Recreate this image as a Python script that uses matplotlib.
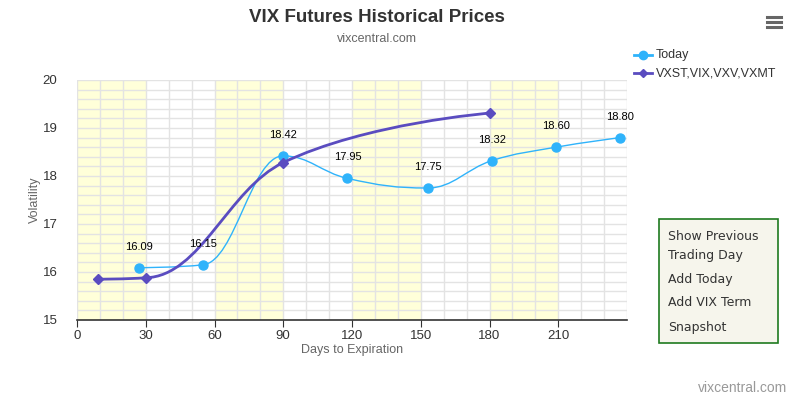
import numpy as np
import matplotlib.pyplot as plt
from matplotlib.path import Path
from matplotlib.patches import PathPatch, Rectangle
from matplotlib.lines import Line2D

plt.rcParams['font.family'] = ['Liberation Sans', 'DejaVu Sans']

# data
today_days = [27, 55, 90, 118, 153, 181, 209, 237]
today_vals = [16.09, 16.15, 18.42, 17.95, 17.75, 18.32, 18.60, 18.80]

term_days = [9, 30, 90, 180]
term_vals = [15.85, 15.88, 18.28, 19.31]

band_starts = [0, 60, 120, 180]
band_width = 30
x_ticks = [0, 30, 60, 90, 120, 150, 180, 210]
y_ticks = [15, 16, 17, 18, 19, 20]

W, H = 794, 399


def fx(x):
    return x / W


def fy(y):
    return 1 - y / H


# Highcharts-like spline (bezier control points from neighbours)
def spline_path(xs, ys, smoothing=1.5):
    n = len(xs)
    left = [None] * n
    right = [None] * n
    denom = smoothing + 1
    for i in range(1, n - 1):
        px, py = xs[i], ys[i]
        lx, ly = xs[i - 1], ys[i - 1]
        nx, ny = xs[i + 1], ys[i + 1]
        lcx = (smoothing * px + lx) / denom
        lcy = (smoothing * py + ly) / denom
        rcx = (smoothing * px + nx) / denom
        rcy = (smoothing * py + ny) / denom
        corr = (rcy - lcy) * (rcx - px) / (rcx - lcx) + py - rcy
        lcy += corr
        rcy += corr
        if lcy > ly and lcy > py:
            lcy = max(ly, py)
            rcy = 2 * py - lcy
        elif lcy < ly and lcy < py:
            lcy = min(ly, py)
            rcy = 2 * py - lcy
        if rcy > ny and rcy > py:
            rcy = max(ny, py)
            lcy = 2 * py - rcy
        elif rcy < ny and rcy < py:
            rcy = min(ny, py)
            lcy = 2 * py - rcy
        left[i] = (lcx, lcy)
        right[i] = (rcx, rcy)
    verts = [(xs[0], ys[0])]
    codes = [Path.MOVETO]
    for i in range(1, n):
        c1 = right[i - 1] if right[i - 1] is not None else (xs[i - 1], ys[i - 1])
        c2 = left[i] if left[i] is not None else (xs[i], ys[i])
        verts += [c1, c2, (xs[i], ys[i])]
        codes += [Path.CURVE4] * 3
    return Path(verts, codes)


fig = plt.figure(figsize=(W / 100, H / 100), dpi=100)
ax = fig.add_axes([fx(77), fy(320), 550 / W, 240 / H])

ax.set_xlim(0, 240)
ax.set_ylim(15, 20)

for s in band_starts:
    ax.axvspan(s, s + band_width, color='#ffffd9', zorder=0, lw=0)

ax.set_xticks(x_ticks)
ax.set_xticks(np.arange(0, 241, 10), minor=True)
ax.set_yticks(y_ticks)
ax.set_yticks(np.arange(15, 20.01, 0.2), minor=True)
ax.grid(True, which='both', color='#e3e3e3', lw=1, zorder=1)
ax.set_axisbelow(True)

for sp in ['top', 'right', 'left']:
    ax.spines[sp].set_visible(False)
ax.spines['bottom'].set_color('#333333')
ax.spines['bottom'].set_linewidth(1.2)
ax.tick_params(axis='x', which='major', length=5, color='#333333', labelsize=9.5,
               labelcolor='#333333', pad=2)
ax.tick_params(axis='x', which='minor', length=0)
ax.tick_params(axis='y', which='both', length=0, labelsize=9.5, labelcolor='#333333', pad=14)

ax.set_xlabel('Days to Expiration', fontsize=9, color='#666666', labelpad=2)
ax.set_ylabel('Volatility', fontsize=9, color='#666666', labelpad=1)

today_color = '#2fb3fb'
term_color = '#5a4cc0'

ax.add_patch(PathPatch(spline_path(today_days, today_vals), fill=False,
                       edgecolor=today_color, lw=1, zorder=3))
ax.plot(today_days, today_vals, ls='none', marker='o', ms=6.5, color=today_color, zorder=4)

ax.add_patch(PathPatch(spline_path(term_days, term_vals), fill=False,
                       edgecolor=term_color, lw=2, zorder=5))
ax.plot(term_days, term_vals, ls='none', marker='D', ms=5, color=term_color, zorder=6)

for d, v in zip(today_days, today_vals):
    ax.annotate(f'{v:.2f}', (d, v), xytext=(0, 21), textcoords='offset pixels',
                ha='center', va='center', fontsize=8, color='black', zorder=7,
                annotation_clip=False)

# title and subtitle
fig.text(fx(377), fy(17), 'VIX Futures Historical Prices', ha='center', va='center',
         fontsize=13.5, fontweight='bold', color='#333333')
fig.text(fx(377), fy(39), 'vixcentral.com', ha='center', va='center',
         fontsize=9, color='#666666')

# legend
for y, c, m, ms, label in [(55, today_color, 'o', 6, 'Today'),
                           (73, term_color, 'D', 4.5, 'VXST,VIX,VXV,VXMT')]:
    fig.add_artist(Line2D([fx(634), fx(652)], [fy(y), fy(y)], color=c, lw=2,
                          transform=fig.transFigure))
    fig.add_artist(Line2D([fx(643)], [fy(y)], color=c, marker=m, ms=ms,
                          transform=fig.transFigure))
    fig.text(fx(656), fy(y), label, ha='left', va='center', fontsize=9, color='#333333')

# menu icon
for y in [17, 22, 27]:
    fig.add_artist(Line2D([fx(767), fx(781)], [fy(y), fy(y)], color='#666666', lw=2.2,
                          transform=fig.transFigure))

# button panel
fig.add_artist(Rectangle((fx(659), fy(343)), 119 / W, 124 / H, transform=fig.transFigure,
                         facecolor='#f6f5ec', edgecolor='#1f7a1f', lw=1.2))
for y, t in [(236, 'Show Previous'), (255, 'Trading Day'), (279, 'Add Today'),
             (303, 'Add VIX Term'), (327, 'Snapshot')]:
    fig.text(fx(668), fy(y), t, ha='left', va='center', fontsize=9,
             family=['DejaVu Sans'], color='#333333')

fig.text(fx(787), fy(388), 'vixcentral.com', ha='right', va='center',
         fontsize=10, color='#999999')

fig.savefig('out.png', dpi=100)
